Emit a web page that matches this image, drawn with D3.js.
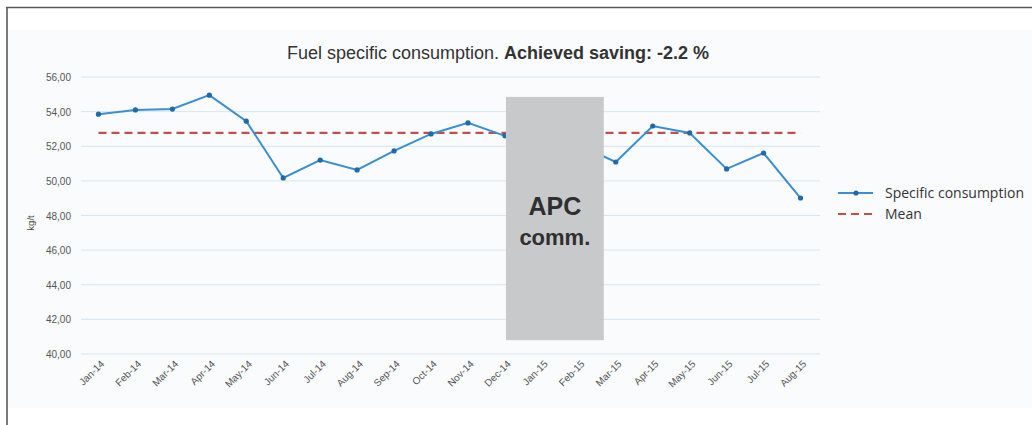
<!DOCTYPE html>
<html>
<head>
<meta charset="utf-8">
<script src="https://cdn.jsdelivr.net/npm/d3@7"></script>
<style>
  html, body { margin: 0; padding: 0; background: #fff; }
  svg { display: block; }
</style>
</head>
<body>
<svg id="chart" width="1032" height="425"></svg>
<script>
// Monthly fuel specific consumption (kg/t)
const months = ["Jan-14","Feb-14","Mar-14","Apr-14","May-14","Jun-14","Jul-14","Aug-14",
  "Sep-14","Oct-14","Nov-14","Dec-14","Jan-15","Feb-15","Mar-15","Apr-15","May-15",
  "Jun-15","Jul-15","Aug-15"];
const consumption = [53.85, 54.10, 54.15, 54.95, 53.45, 50.17, 51.20, 50.63, 51.73, 52.71,
  53.35, 52.60, 52.30, 52.07, 51.09, 53.17, 52.77, 50.69, 51.61, 49.01];
const meanValue = [52.77];
const yTicks = [40, 42, 44, 46, 48, 50, 52, 54, 56];
// Commissioning window for the APC system
const apcWindow = ["Dec-14", "Mar-15"];
const apcRange = [40.8, 54.85];

const svg = d3.select("#chart");
const fmt = v => d3.format(".2f")(v).replace(".", ",");

// page frame and panel
svg.append("rect").attr("x", 8).attr("y", 30).attr("width", 1024).attr("height", 378)
  .attr("fill", "#f9fbfd");
svg.append("line").attr("x1", 7).attr("x2", 7).attr("y1", 7).attr("y2", 425)
  .attr("stroke", "#5a5a5a").attr("stroke-width", 1.6);
svg.append("line").attr("x1", 6).attr("x2", 1032).attr("y1", 7.5).attr("y2", 7.5)
  .attr("stroke", "#5a5a5a").attr("stroke-width", 1.6);

const x = d3.scaleBand().domain(months).range([80, 819]);
const y = d3.scaleLinear().domain([40, 56]).range([354, 77]);
const cx = m => x(m) + x.bandwidth() / 2;

// gridlines
svg.append("g").selectAll("line").data(yTicks).join("line")
  .attr("x1", 81).attr("x2", 820)
  .attr("y1", d => y(d)).attr("y2", d => y(d))
  .attr("stroke", "#d5e5f1").attr("stroke-width", 1);

// y axis labels
const yAxis = d3.axisLeft(y).tickValues(yTicks).tickFormat(fmt).tickSize(0).tickPadding(0);
svg.append("g").attr("transform", "translate(71,0)").call(yAxis)
  .call(g => g.select(".domain").remove())
  .call(g => g.selectAll("text").attr("font-family", "Liberation Sans, Arial, sans-serif")
    .attr("font-size", 10).attr("fill", "#555").attr("dy", "0.35em"));

svg.append("text").attr("transform", "translate(34,223) rotate(-90)")
  .attr("text-anchor", "middle").attr("font-family", "Liberation Sans, Arial, sans-serif")
  .attr("font-size", 9.5).attr("fill", "#444").text("kg/t");

// x axis labels
const xAxis = d3.axisBottom(x).tickSize(0).tickPadding(0);
svg.append("g").attr("transform", "translate(0,360)").call(xAxis)
  .call(g => g.select(".domain").remove())
  .call(g => g.selectAll("text")
    .attr("font-family", "Liberation Sans, Arial, sans-serif")
    .attr("font-size", 10).attr("fill", "#555")
    .attr("text-anchor", "end").attr("dy", "0.35em")
    .attr("transform", "translate(4,2) rotate(-45)"));

// mean line
svg.append("line")
  .attr("x1", cx(months[0])).attr("x2", cx(months[months.length - 1]))
  .attr("y1", y(meanValue[0])).attr("y2", y(meanValue[0]))
  .attr("stroke", "#c0504d").attr("stroke-width", 2.2).attr("stroke-dasharray", "8,5");

// consumption series
const line = d3.line().x((d, i) => cx(months[i])).y(d => y(d));
svg.append("path").datum(consumption).attr("d", line)
  .attr("fill", "none").attr("stroke", "#3a8fd0").attr("stroke-width", 2);
svg.append("g").selectAll("circle").data(consumption).join("circle")
  .attr("cx", (d, i) => cx(months[i])).attr("cy", d => y(d)).attr("r", 2.6)
  .attr("fill", "#1f6aa8");

// APC commissioning box
const bx0 = cx(apcWindow[0]) + 1;
const bx1 = cx(apcWindow[1]) - 12;
svg.append("rect").attr("x", bx0).attr("y", y(apcRange[1]))
  .attr("width", bx1 - bx0).attr("height", y(apcRange[0]) - y(apcRange[1]))
  .attr("fill", "#c8c9cb");
const bmid = (bx0 + bx1) / 2;
svg.append("text").attr("x", bmid).attr("y", 215).attr("text-anchor", "middle")
  .attr("font-family", "Liberation Sans, Arial, sans-serif").attr("font-weight", "bold")
  .attr("font-size", 25).attr("fill", "#2f2f2f").text("APC");
svg.append("text").attr("x", bmid).attr("y", 245).attr("text-anchor", "middle")
  .attr("font-family", "Liberation Sans, Arial, sans-serif").attr("font-weight", "bold")
  .attr("font-size", 22).attr("fill", "#2f2f2f").text("comm.");

// title
const title = svg.append("text").attr("x", 498).attr("y", 59).attr("text-anchor", "middle")
  .attr("font-family", "Liberation Sans, Arial, sans-serif").attr("font-size", 18)
  .attr("fill", "#333");
title.append("tspan").text("Fuel specific consumption. ");
title.append("tspan").attr("font-weight", "bold").text("Achieved saving: -2.2 %");

// legend
const lg = svg.append("g").attr("font-family", "Open Sans, Noto Sans, sans-serif")
  .attr("font-size", 14).attr("fill", "#333");
lg.append("line").attr("x1", 838).attr("x2", 873).attr("y1", 193).attr("y2", 193)
  .attr("stroke", "#3a8fd0").attr("stroke-width", 2);
lg.append("circle").attr("cx", 856).attr("cy", 193).attr("r", 2.6).attr("fill", "#1f6aa8");
lg.append("text").attr("x", 885).attr("y", 198).text("Specific consumption");
lg.append("line").attr("x1", 838).attr("x2", 873).attr("y1", 214).attr("y2", 214)
  .attr("stroke", "#c0504d").attr("stroke-width", 2.2).attr("stroke-dasharray", "8,5");
lg.append("text").attr("x", 885).attr("y", 219).text("Mean");
</script>
</body>
</html>
